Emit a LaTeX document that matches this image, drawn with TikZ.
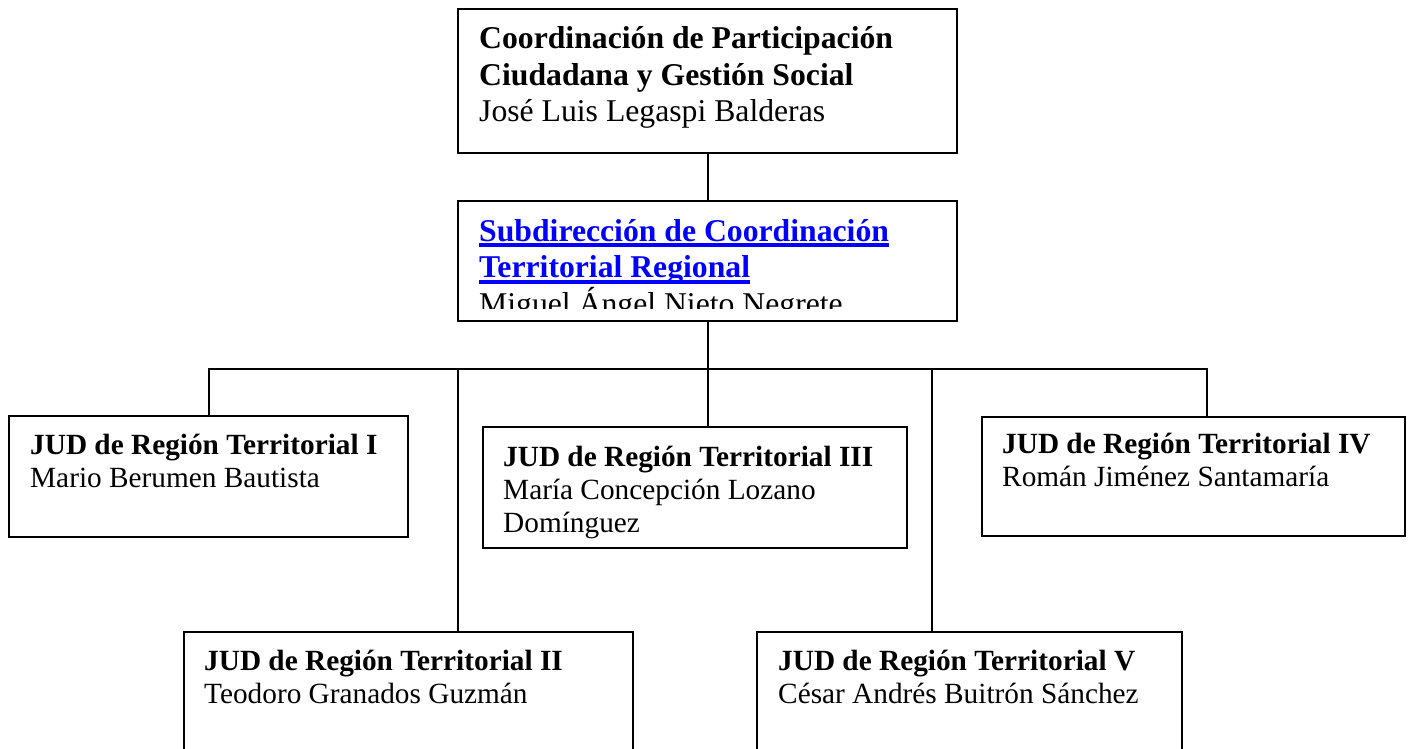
\documentclass[tikz,border=0pt]{standalone}
\usepackage{fontspec}
\setmainfont{Liberation Serif}
\usetikzlibrary{calc}
\definecolor{linkblue}{RGB}{0,0,255}
\newcommand\linkline[2]{\leavevmode\setbox0\hbox{#2}\rlap{\rule[#1]{\wd0}{3.5pt}}\box0}
\tikzset{
  box/.style={draw=black, line width=2pt, inner sep=0pt, rectangle},
  conn/.style={draw=black, line width=2pt},
  lbl/.style={anchor=base west, inner sep=0pt},
  bigfont/.style={font=\fontsize{31.7}{36.5}\selectfont},
  jfont/.style={font=\fontsize{29.3}{33}\selectfont}
}
\begin{document}
\begin{tikzpicture}[x=1pt,y=-1pt]
\useasboundingbox (0,0) rectangle (1409,749);
\clip (0,0) rectangle (1409,749);
% boxes
\node[box, minimum width=499pt, minimum height=144pt] (top) at (707.5,81) {};
\node[box, minimum width=499pt, minimum height=120pt] (sub) at (707.5,261) {};
\node[box, minimum width=399pt, minimum height=121pt] (j1) at (208.5,476.5) {};
\node[box, minimum width=424pt, minimum height=121pt] (j3) at (695,487.5) {};
\node[box, minimum width=423pt, minimum height=119pt] (j4) at (1193.5,476.5) {};
\node[box, minimum width=449pt, minimum height=168pt] (j2) at (408.5,716) {};
\node[box, minimum width=425pt, minimum height=168pt] (j5) at (969.5,716) {};
% texts
\node[lbl, bigfont] (topt) at (479,49) {\parbox[t]{470pt}{\textbf{Coordinación de Participación}\\\textbf{Ciudadana y Gestión Social}\\José Luis Legaspi Balderas}};
\begin{scope}
\clip (458,200) rectangle (957,308.5);
\node[lbl, bigfont] (subt) at (479,241) {\parbox[t]{470pt}{\leavevmode\textcolor{linkblue}{\bfseries\linkline{-5.5pt}{Subdirección de Coordinación}}\\\textcolor{linkblue}{\bfseries\linkline{-6.2pt}{Territorial Regional}}\\Miguel Ángel Nieto Negrete}};
\end{scope}
\node[lbl, jfont] (j1t) at (30,454) {\parbox[t]{370pt}{\textbf{JUD de Región Territorial I}\\Mario Berumen Bautista}};
\node[lbl, jfont] (j3t) at (503,466) {\parbox[t]{400pt}{\textbf{JUD de Región Territorial III}\\María Concepción Lozano\\Domínguez}};
\node[lbl, jfont] (j4t) at (1002,453.5) {\parbox[t]{400pt}{\textbf{JUD de Región Territorial IV}\\Román Jiménez Santamaría}};
\node[lbl, jfont] (j2t) at (204,670) {\parbox[t]{420pt}{\textbf{JUD de Región Territorial II}\\Teodoro Granados Guzmán}};
\node[lbl, jfont] (j5t) at (778,670) {\parbox[t]{400pt}{\textbf{JUD de Región Territorial V}\\César Andrés Buitrón Sánchez}};
% connectors
\coordinate (hub) at (708,369);
\coordinate (b1) at (209,369);
\coordinate (b2) at (458,369);
\coordinate (b4) at (932,369);
\coordinate (b5) at (1207,369);
\draw[conn] (top.south -| hub) -- (sub.north -| hub);
\draw[conn] (sub.south -| hub) -- (hub);
\draw[conn] (b1 |- j1.north) -- (b1) -- (b5) -- (b5 |- j4.north);
\draw[conn] (b2) -- (b2 |- j2.north);
\draw[conn] (hub) -- (hub |- j3.north);
\draw[conn] (b4) -- (b4 |- j5.north);
\end{tikzpicture}
\end{document}
